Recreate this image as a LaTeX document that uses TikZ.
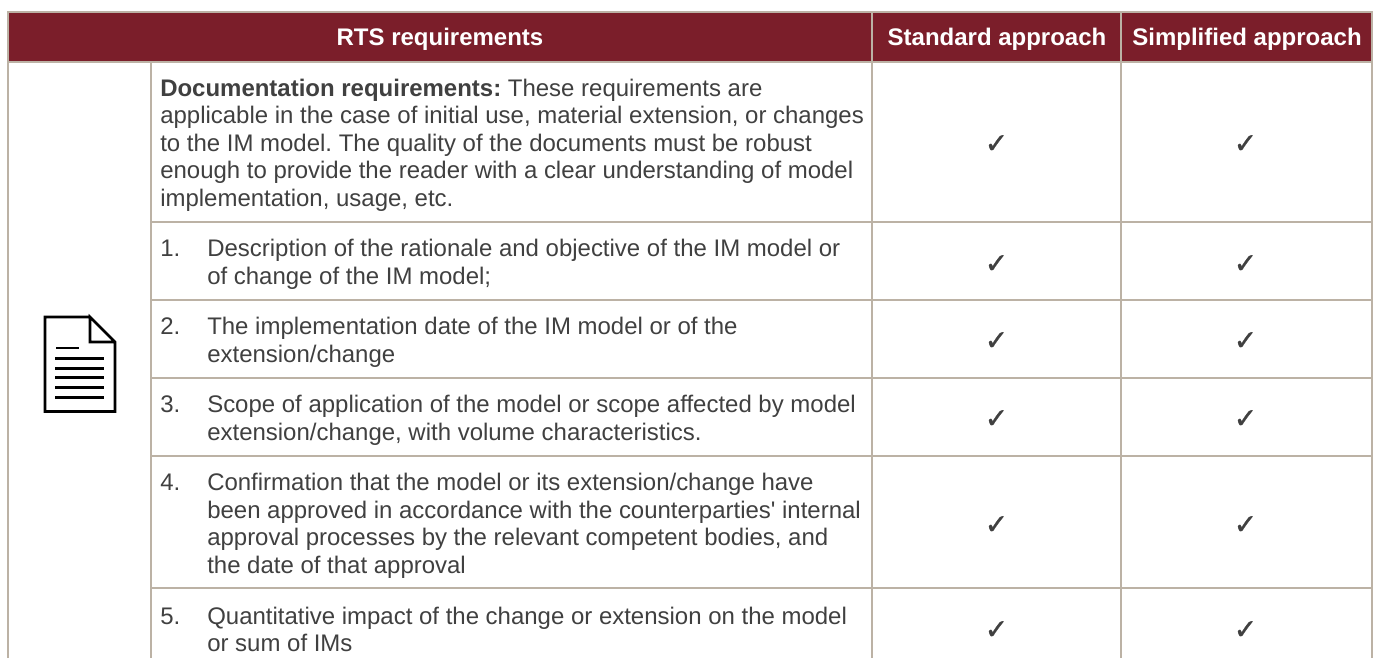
\documentclass[tikz,border=0pt]{standalone}
\usepackage{fontspec}
\setmainfont[Ligatures=NoCommon]{Liberation Sans}
\newfontfamily\straightfont{Liberation Sans}
\newfontfamily\checkfont[FakeBold=1.1]{DejaVu Sans}
\definecolor{hdr}{HTML}{7B1E2A}
\definecolor{rule}{HTML}{BCB2A5}
\definecolor{ink}{HTML}{404040}
\tikzset{
  gridline/.style={draw=rule,line width=1.5pt},
  hd/.style={text=white,font=\fontsize{18}{20.6}\selectfont\bfseries,inner sep=0pt},
  body/.style={text=ink,font=\fontsize{17.98}{20.6}\selectfont\frenchspacing,inner sep=0pt,anchor=north west,align=left},
  num/.style={body},
  tick/.style={text=ink,font=\checkfont\fontsize{21}{24}\selectfont,inner sep=0pt},
  icon/.style={draw=black,line width=2pt},
  iconline/.style={draw=black,line width=2pt}
}
\begin{document}
\begin{tikzpicture}[x=0.75pt,y=-0.75pt]
\useasboundingbox (0,0) rectangle (1376,658);
\fill[white] (0,0) rectangle (1376,658);
\fill[hdr] (8,11.5) rectangle (1372,62);
% grid
\draw[gridline] (8,658) -- (8,11.5) -- (1372,11.5) -- (1372,658);
\draw[gridline] (8,62) -- (1372,62);
\draw[gridline] (151,62) -- (151,658);
\draw[gridline] (872,11.5) -- (872,658);
\draw[gridline] (1121,11.5) -- (1121,658);
\foreach \yy in {222,300,378,456,588}{\draw[gridline] (151,\yy) -- (1372,\yy);}
% header
\node[hd] (h1) at (440,39.5) {RTS requirements};
\node[hd] (h2) at (997,39.5) {Standard approach};
\node[hd] (h3) at (1247,39.5) {Simplified approach};
% intro
\node[body] (intro) at (160,78.5) {\textbf{Documentation requirements:} These requirements are\\
applicable in the case of initial use, material extension, or changes\\
to the IM model. The quality of the documents must be robust\\
enough to provide the reader with a clear understanding of model\\
implementation, usage, etc.};
% numbered
\node[num] (n1) at (160,239) {\vphantom{Dl}1.};
\node[body] (t1) at (207,239) {\vphantom{Dl}Description of the rationale and objective of the IM model or\\of change of the IM model;};
\node[num] (n2) at (160,317) {\vphantom{Dl}2.};
\node[body] (t2) at (207,317) {\vphantom{Dl}The implementation date of the IM model or of the\\extension/change};
\node[num] (n3) at (160,395) {\vphantom{Dl}3.};
\node[body] (t3) at (207,395) {\vphantom{Dl}Scope of application of the model or scope affected by model\\extension/change, with volume characteristics.};
\node[num] (n4) at (160,473) {\vphantom{Dl}4.};
\node[body] (t4) at (207,473) {\vphantom{Dl}Confirmation that the model or its extension/change have\\been approved in accordance with the counterparties{\straightfont\char"0027}\ internal\\approval processes by the relevant competent bodies, and\\the date of that approval};
\node[num] (n5) at (160,606.5) {\vphantom{Dl}5.};
\node[body] (t5) at (207,606.5) {\vphantom{Dl}Quantitative impact of the change or extension on the model\\or sum of IMs};
% ticks
\foreach \nm/\yy in {a/144,b/264,c/341,d/419,e/525,f/630}{
  \node[tick] (s\nm) at (996.5,\yy) {✓};
  \node[tick] (r\nm) at (1245.5,\yy) {✓};
}
% icon
\draw[icon,line join=miter] (90,317) -- (45,317) -- (45,411.5) -- (115,411.5) -- (115,342) -- (90,317) -- (90,342) -- (115,342);
\draw[iconline] (56,348) -- (79,348);
\foreach \yy in {358.5,368.5,377.5,387.5,397.5}{\draw[iconline] (55,\yy) -- (104,\yy);}
\end{tikzpicture}
\end{document}
